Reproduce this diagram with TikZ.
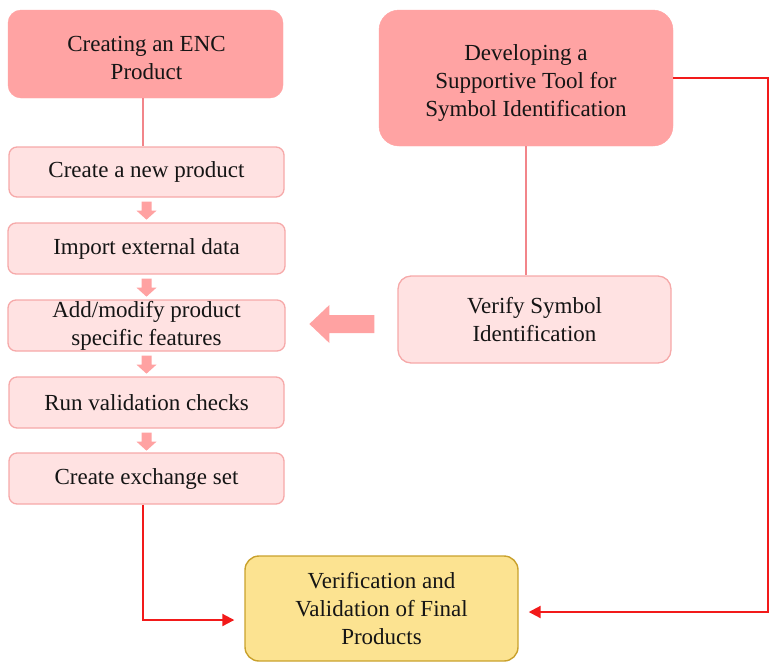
\documentclass[tikz,border=0pt]{standalone}
\usepackage{fontspec}
\setmainfont{Liberation Serif}
\usetikzlibrary{calc,arrows.meta}
\definecolor{darkpink}{HTML}{FFA3A3}
\definecolor{lightpink}{HTML}{FFE2E2}
\definecolor{lightborder}{HTML}{F6A9A9}
\definecolor{pinkline}{HTML}{F2858A}
\definecolor{blockfill}{HTML}{FFA2A2}
\definecolor{yfill}{HTML}{FCE391}
\definecolor{yborder}{HTML}{C9A12C}
\definecolor{redline}{HTML}{F21A1A}
\definecolor{txt}{HTML}{151515}
\begin{document}
\begin{tikzpicture}[x=1pt,y=-1pt,
  every node/.style={font=\fontsize{23}{28}\selectfont, text=txt, align=center, inner sep=0pt},
  mainbox/.style={rectangle, rounded corners=13pt, fill=darkpink, draw=darkpink},
  stepbox/.style={rectangle, rounded corners=8pt, fill=lightpink, draw=lightborder, line width=1.3pt},
  finalbox/.style={rectangle, rounded corners=14pt, fill=yfill, draw=yborder, line width=1.4pt},
  pinkconn/.style={draw=pinkline, line width=1.6pt},
  redconn/.style={draw=redline, line width=2.1pt, -{Triangle[length=12pt,width=12pt]}, shorten >=10pt},
  blk/.style={fill=blockfill}
]
\useasboundingbox (0,0) rectangle (770,662);

\node[mainbox, minimum width=275pt, minimum height=88pt] (enc) at (145.5,54) {};
\node (enct) at ($(enc.center)+(1,4)$) {Creating an ENC\\Product};
\node[stepbox, minimum width=275pt, minimum height=50pt] (n1) at (146.5,172) {Create a new product};
\node[stepbox, minimum width=277pt, minimum height=51pt] (n2) at (146.5,248.5) {Import external data};
\node[stepbox, minimum width=277pt, minimum height=51pt] (n3) at (146.5,325.5) {Add/modify product\\specific features};
\node[stepbox, minimum width=275pt, minimum height=51pt] (n4) at (146.5,402.5) {Run validation checks};
\node[stepbox, minimum width=275pt, minimum height=51pt] (n5) at (146.5,478.5) {Create exchange set};

\node[mainbox, rounded corners=20pt, minimum width=294pt, minimum height=136pt] (dev) at (526,78) {};
\node (devt) at ($(dev.center)+(0,5)$) {Developing a\\Supportive Tool for\\Symbol Identification};
\node[stepbox, rounded corners=13pt, minimum width=273pt, minimum height=87pt] (ver) at (534.5,319.5) {Verify Symbol\\Identification};

\node[finalbox, minimum width=273pt, minimum height=105pt] (fin) at (381.5,608.5) {Verification and\\Validation of Final\\Products};

% connectors
\draw[pinkconn] ($(enc.south)+(-2.5,0)$) coordinate (es) -- (es |- n1.north);
\draw[pinkconn] (dev.south) -- (dev.south |- ver.north);

% small block arrows
\foreach \a in {n1,n2,n3,n4}{
  \fill[blk] ($(\a.south)+(-5,4)$) -- ++(10,0) -- ++(0,9) -- ++(5,0) -- ++(-10,9) -- ++(-10,-9) -- ++(5,0) -- cycle;
}

% big left arrow
\coordinate (ba) at ($(ver.west)+(-23,4.5)$);
\fill[blk] ($(ba)+(0,-9)$) -- ++(0,18) -- ++(-45,0) -- ++(0,10) -- ++(-20,-19) -- ++(20,-19) -- ++(0,10) -- cycle;

% red connectors
\draw[redconn] ($(n5.south)+(-3.5,0)$) coordinate (ns) |- ($(fin.west)+(0,11.5)$);
\coordinate (rc) at (768,78);
\draw[redconn] (dev.east) -- (rc) |- ($(fin.east)+(0,3.5)$);
\end{tikzpicture}
\end{document}
